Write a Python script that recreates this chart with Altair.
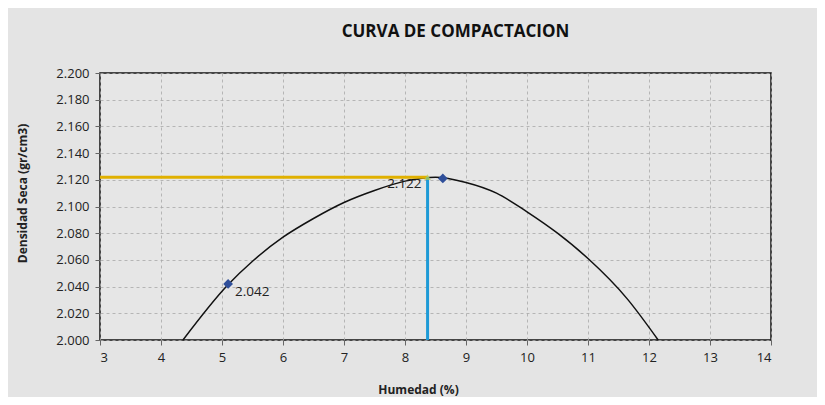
import altair as alt
import pandas as pd

# Fitted compaction curve
curve_x = [4.36, 5.09, 5.5, 6.0, 6.5, 7.0, 7.5, 8.0, 8.5, 9.0, 9.5, 10.0, 10.5, 11.0, 11.64, 12.15]
curve_y = [2.000, 2.041, 2.059, 2.077, 2.091, 2.103, 2.112, 2.119, 2.122, 2.118, 2.110, 2.096, 2.080, 2.061, 2.031, 2.000]

# Measured points
point_x = [5.1, 8.62]
point_y = [2.042, 2.121]
point_lbl = ["2.042", ""]

# Optimum
opt_x = [8.37]
opt_y = [2.122]
opt_lbl = ["2.122"]

# Axis ticks
x_ticks = [3, 4, 5, 6, 7, 8, 9, 10, 11, 12, 13, 14]
y_ticks = [2.000, 2.020, 2.040, 2.060, 2.080, 2.100, 2.120, 2.140, 2.160, 2.180, 2.200]

x_min, x_max = 3, 14
y_min, y_max = 2.0, 2.2

curve = pd.DataFrame({"x": curve_x, "y": curve_y})
pts = pd.DataFrame({"x": point_x, "y": point_y, "lbl": point_lbl})
opt = pd.DataFrame({"x": opt_x, "y": opt_y, "lbl": opt_lbl, "x0": [x_min], "y0": [y_min]})

FONT = "Open Sans"
xs = alt.Scale(domain=[x_min, x_max], nice=False, zero=False)
ys = alt.Scale(domain=[y_min, y_max], nice=False, zero=False)

xax = alt.Axis(title="Humedad (%)", values=x_ticks, format="d",
               titlePadding=20, titleX=318)
yax = alt.Axis(title="Densidad Seca (gr/cm3)", values=y_ticks,
               format=".3f", titlePadding=26, titleY=120)


def X(f):
    return alt.X(f, scale=xs, axis=xax)


def Y(f):
    return alt.Y(f, scale=ys, axis=yax)


base_curve = alt.Chart(curve).mark_line(color="#111", strokeWidth=1.5, interpolate="monotone").encode(
    x=X("x:Q"), y=Y("y:Q"))

hline = alt.Chart(opt).mark_rule(color="#e0b000", strokeWidth=3).encode(
    x=X("x0:Q"), x2="x:Q", y=Y("y:Q"))
vline = alt.Chart(opt).mark_rule(color="#1e9ad6", strokeWidth=3).encode(
    x=X("x:Q"), y=Y("y0:Q"), y2="y:Q")

opt_pt = alt.Chart(opt).mark_point(shape="triangle-up", filled=True, color="#b8cc4a", size=45).encode(
    x=X("x:Q"), y=Y("y:Q"))

pts_mark = alt.Chart(pts).mark_point(shape="diamond", filled=True, color="#2f4f9a", size=95, opacity=1).encode(
    x=X("x:Q"), y=Y("y:Q"))

pts_lbl = alt.Chart(pts).mark_text(align="left", baseline="middle", dx=7, dy=8, font=FONT,
                                   fontSize=13.5, color="#222").encode(
    x=X("x:Q"), y=Y("y:Q"), text="lbl:N")

opt_text = alt.Chart(opt).mark_text(align="right", baseline="middle", dx=-6, dy=7, font=FONT,
                                    fontSize=13.5, color="#222").encode(
    x=X("x:Q"), y=Y("y:Q"), text="lbl:N")

chart = alt.layer(base_curve, hline, vline, opt_pt, pts_mark, pts_lbl, opt_text).properties(
    width=671, height=267,
    title=alt.TitleParams("CURVA DE COMPACTACION", font=FONT, fontSize=17, fontWeight="bold",
                          color="#111", anchor="middle", offset=26, dx=20),
    background="#e4e4e4",
    autosize=alt.AutoSizeParams(type="none"),
    padding={"left": 92, "top": 65, "right": 46, "bottom": 57},
).configure_view(stroke="#111", strokeWidth=1.5, fill="#e6e6e6").configure_axis(
    grid=True, gridDash=[3, 3], gridColor="#a8a8a8", gridWidth=0.8, labelOverlap=False,
    tickColor="#666", tickSize=5, domain=False,
    labelFont=FONT, labelFontSize=13, labelColor="#222", labelPadding=6,
    titleFont=FONT, titleFontSize=12, titleFontWeight="bold", titleColor="#222",
)

chart.save("out.html", embed_options={"renderer": "svg", "actions": False})
